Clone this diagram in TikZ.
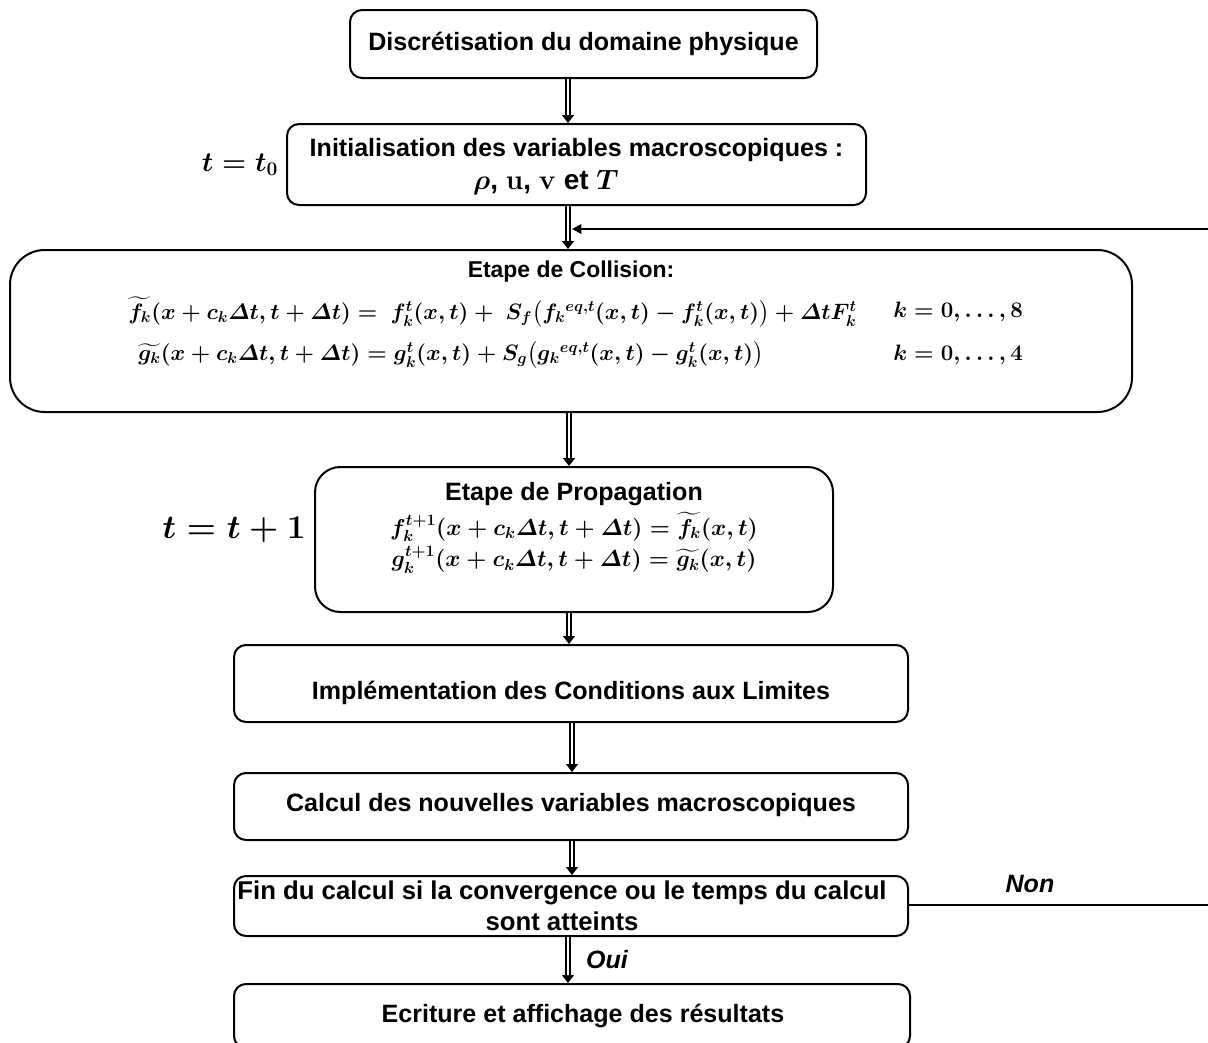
\RequirePackage{fix-cm}
\documentclass[tikz,border=0pt]{standalone}
\usepackage{amsmath,amssymb}
\usepackage[no-math]{fontspec}
\setmainfont{Liberation Sans}
\usetikzlibrary{arrows.meta,calc}
\tikzset{
  stepbox/.style={draw, line width=1.5pt, rounded corners=9pt, inner sep=0pt},
  btxt/.style={font=\bfseries\fontsize{18.8}{23}\selectfont, align=center, inner sep=0pt},
  eqtxt/.style={font=\boldmath\fontsize{17.28}{21}\selectfont, inner sep=0pt},
  eqsm/.style={font=\boldmath\fontsize{16.7}{20}\selectfont, inner sep=0pt},
  lbl/.style={font=\boldmath\fontsize{20.74}{24}\selectfont, inner sep=0pt},
  lblb/.style={font=\boldmath\fontsize{25}{29}\selectfont, inner sep=0pt},
  dbl/.style={double, double distance=1.9pt, line width=1.1pt, -{Triangle[length=6pt,width=9pt]}},
  fbline/.style={line width=1.5pt},
}
\begin{document}
\begin{tikzpicture}[x=0.75pt,y=-0.75pt]
\useasboundingbox (0,0) rectangle (1208,1043);
% boxes
\node[stepbox, minimum width=467*0.75pt, minimum height=68*0.75pt] (b1) at (583.5,44) {};
\node[stepbox, minimum width=579*0.75pt, minimum height=81*0.75pt] (b2) at (576.5,164.5) {};
\node[stepbox, rounded corners=26pt, minimum width=1122*0.75pt, minimum height=162*0.75pt] (coll) at (571,331) {};
\node[stepbox, rounded corners=19pt, minimum width=518*0.75pt, minimum height=145*0.75pt] (prop) at (574,539.5) {};
\node[stepbox, minimum width=674*0.75pt, minimum height=77*0.75pt] (impl) at (571,683.5) {};
\node[stepbox, minimum width=674*0.75pt, minimum height=67*0.75pt] (calc) at (571,806.5) {};
\node[stepbox, minimum width=674*0.75pt, minimum height=60*0.75pt] (fin) at (571,906) {};
\node[stepbox, minimum width=676*0.75pt, minimum height=64*0.75pt] (ecr) at (572,1016) {};
% texts
\node[btxt] (t1) at (583.5,44) {Discrétisation du domaine physique};
\node[btxt] (t2a) at (576.5,150) {Initialisation des variables macroscopiques :};
\node[btxt, font=\bfseries\boldmath\fontsize{21}{25}\selectfont] (t2b) at (546,183) {$\rho$, $\mathbf{u}$, $\mathbf{v}$ et $T$};
\node[btxt, font=\bfseries\fontsize{17.2}{21}\selectfont] (tc) at (571,272) {Etape de Collision:};
\node[eqsm, anchor=west] (e1) at (128,312) {$\widetilde{f_k}(x+c_k\varDelta t,t+\varDelta t)=\ f_k^t(x,t)+\ S_f\bigl(f_k{}^{eq,t}(x,t)-f_k^t(x,t)\bigr)+\varDelta tF_k^t$};
\node[eqsm, anchor=west] (k1) at (893,312) {$k=0,\dots,8$};
\node[eqsm, anchor=west] (e2) at (138,355) {$\widetilde{g_k}(x+c_k\varDelta t,t+\varDelta t)=g_k^t(x,t)+S_g\bigl(g_k{}^{eq,t}(x,t)-g_k^t(x,t)\bigr)$};
\node[eqsm, anchor=west] (k2) at (893,355) {$k=0,\dots,4$};
\node[btxt] (tp) at (574,494) {Etape de Propagation};
\node[eqtxt] (p1) at (574,527) {$f_k^{t+1}(x+c_k\varDelta t,t+\varDelta t)=\widetilde{f_k}(x,t)$};
\node[eqtxt] (p2) at (574,560) {$g_k^{t+1}(x+c_k\varDelta t,t+\varDelta t)=\widetilde{g_k}(x,t)$};
\node[btxt] (ti) at (571,693) {Implémentation des Conditions aux Limites};
\node[btxt] (tk) at (571,805) {Calcul des nouvelles variables macroscopiques};
\node[btxt, font=\bfseries\fontsize{19.3}{23}\selectfont] (tf) at (562,906) {Fin du calcul si la convergence ou le temps du calcul\\sont atteints};
\node[btxt] (te) at (583,1016) {Ecriture et affichage des résultats};
\node[lbl] (l0) at (240,165) {$t=t_0$};
\node[lblb] (l1) at (234,530) {$t=t+1$};
\node[font=\bfseries\itshape\fontsize{18.8}{23}\selectfont, inner sep=0pt] (non) at (1030,884) {Non};
\node[font=\bfseries\itshape\fontsize{18.8}{23}\selectfont, inner sep=0pt] (oui) at (607,960) {Oui};
% connector x positions
\coordinate (xa) at (568,0);
\coordinate (xb) at (569,0);
\coordinate (xc) at (572,0);
\coordinate (fbend) at (572,229);
\coordinate (fbr1) at (1214,905);
\coordinate (fbr2) at (1214,229);
\draw[dbl] (b1.south -| xa) -- (b2.north -| xa);
\draw[dbl] (b2.south -| xa) -- (coll.north -| xa);
\draw[dbl] (coll.south -| xb) -- (prop.north -| xb);
\draw[dbl] (prop.south -| xb) -- (impl.north -| xb);
\draw[dbl] (impl.south -| xc) -- (calc.north -| xc);
\draw[dbl] (calc.south -| xc) -- (fin.north -| xc);
\draw[dbl] (fin.south -| xa) -- (ecr.north -| xa);
\draw[fbline, -{Triangle[length=7pt,width=7pt]}] (fin.east |- fbr1) -- (fbr1) -- (fbr2) -- (fbend);
\end{tikzpicture}
\end{document}
